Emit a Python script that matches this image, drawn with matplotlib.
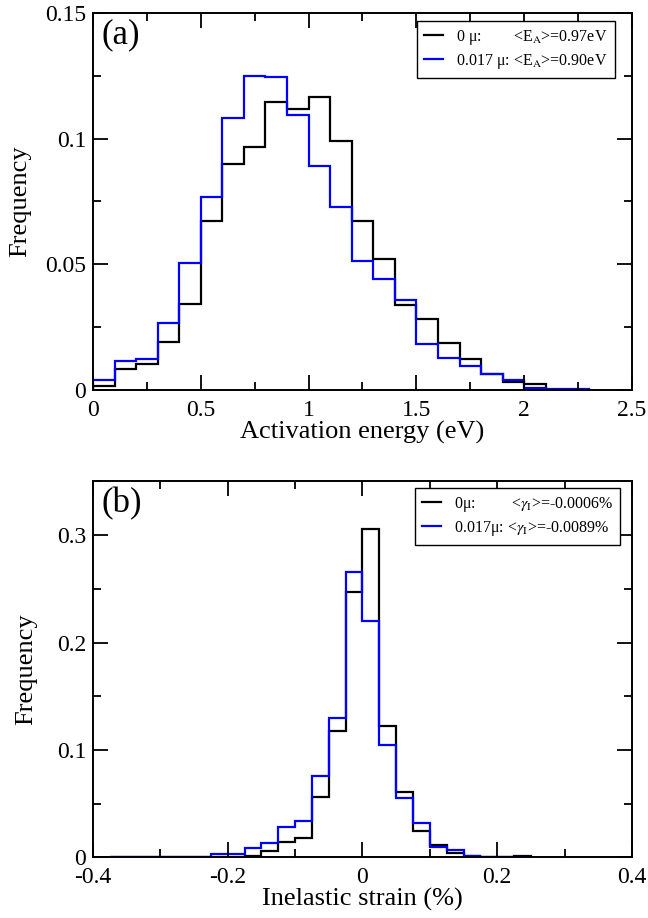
import numpy as np
import matplotlib
matplotlib.use('Agg')
import matplotlib.pyplot as plt
from matplotlib.ticker import MultipleLocator, FuncFormatter
from matplotlib.lines import Line2D

plt.rcParams['font.family'] = ['Liberation Serif', 'DejaVu Serif']
plt.rcParams['mathtext.fontset'] = 'stix'
plt.rcParams['axes.unicode_minus'] = False

# (a) activation energy histograms, bins of 0.1 eV from 0 to 2.3
ea_edges = np.round(np.arange(0, 2.31, 0.1), 2)
ea_0mu = [0.0016, 0.0085, 0.0103, 0.0192, 0.0343, 0.0672, 0.0901, 0.0967, 0.1144, 0.1119,
          0.1167, 0.0990, 0.0672, 0.0520, 0.0340, 0.0284, 0.0185, 0.0123, 0.0062, 0.0033,
          0.0025, 0.0, 0.0]
ea_017mu = [0.0040, 0.0115, 0.0124, 0.0267, 0.0507, 0.0766, 0.1083, 0.1251, 0.1246, 0.1095,
            0.0890, 0.0726, 0.0514, 0.0443, 0.0358, 0.0183, 0.0127, 0.0096, 0.0062, 0.0038,
            0.0006, 0.0003, 0.0003]

# (b) inelastic strain histograms, bins of 0.025 % from -0.375 to 0.25
gs_edges = np.round(np.arange(-0.375, 0.2501, 0.025), 3)
gs_0mu = [0.0, 0.0, 0.0, 0.0003, 0.0003, 0.0003, 0.0005, 0.0006, 0.0015, 0.0055,
          0.014, 0.018, 0.056, 0.118, 0.247, 0.306, 0.122, 0.061, 0.0244, 0.0114,
          0.0043, 0.0012, 0.0006, 0.0003, 0.0015]
gs_017mu = [0.0003, 0.0003, 0.0003, 0.0003, 0.0003, 0.0003, 0.003, 0.003, 0.0083, 0.013,
            0.0287, 0.034, 0.076, 0.130, 0.266, 0.220, 0.105, 0.0555, 0.0315, 0.0098,
            0.0068, 0.0012, 0.0006, 0.0003, 0.0]

fig = plt.figure(figsize=(6.48, 9.18), dpi=100)
ax1 = fig.add_axes([0.1435, 0.5752, 0.8318, 0.4107])
ax2 = fig.add_axes([0.1435, 0.0661, 0.8318, 0.4094])

fmt = FuncFormatter(lambda v, p: '%g' % round(v, 4))


def style(ax):
    for s in ax.spines.values():
        s.set_linewidth(1.4)
    ax.tick_params(which='both', direction='in', top=True, right=True,
                   labelsize=17, width=1.3)
    ax.tick_params(axis='x', pad=7)
    ax.tick_params(axis='y', pad=5)
    ax.tick_params(which='major', length=11)
    ax.tick_params(which='minor', length=5.5)
    ax.xaxis.set_major_formatter(fmt)
    ax.yaxis.set_major_formatter(fmt)


# panel (a)
ax1.stairs(ea_0mu, ea_edges, color='black', lw=1.6, baseline=0)
ax1.stairs(ea_017mu, ea_edges, color='#0000ff', lw=1.6, baseline=0)
ax1.set_xlim(0, 2.5)
ax1.set_ylim(0, 0.15)
ax1.xaxis.set_major_locator(MultipleLocator(0.5))
ax1.xaxis.set_minor_locator(MultipleLocator(0.25))
ax1.yaxis.set_major_locator(MultipleLocator(0.05))
ax1.yaxis.set_minor_locator(MultipleLocator(0.025))
style(ax1)
ax1.set_xlabel('Activation energy (eV)', fontsize=19, labelpad=0)
ax1.set_ylabel('Frequency', fontsize=19, labelpad=10)
ax1.text(0.015, 0.985, '(a)', transform=ax1.transAxes, fontsize=25, va='top', ha='left')
h1 = [Line2D([], [], color='black', lw=1.6), Line2D([], [], color='#0000ff', lw=1.6)]
ax1.legend(h1, ['0 μ:        <E$_{\\rm A}$>=0.97eV',
                '0.017 μ: <E$_{\\rm A}$>=0.90eV'],
           loc='upper right', bbox_to_anchor=(0.968, 0.979), borderaxespad=0,
           fontsize=11.5, frameon=True, fancybox=False, edgecolor='black',
           framealpha=1, handlelength=1.2, handletextpad=0.8, borderpad=0.45,
           labelspacing=0.3).get_frame().set_linewidth(1.0)

# panel (b)
ax2.stairs(gs_0mu, gs_edges, color='black', lw=1.6, baseline=0)
ax2.stairs(gs_017mu, gs_edges, color='#0000ff', lw=1.6, baseline=0)
ax2.set_xlim(-0.4, 0.4)
ax2.set_ylim(0, 0.35)
ax2.xaxis.set_major_locator(MultipleLocator(0.2))
ax2.xaxis.set_minor_locator(MultipleLocator(0.1))
ax2.yaxis.set_major_locator(MultipleLocator(0.1))
ax2.yaxis.set_minor_locator(MultipleLocator(0.05))
style(ax2)
ax2.set_xlabel('Inelastic strain (%)', fontsize=19, labelpad=0)
ax2.set_ylabel('Frequency', fontsize=19, labelpad=14)
ax2.text(0.015, 0.985, '(b)', transform=ax2.transAxes, fontsize=25, va='top', ha='left')
h2 = [Line2D([], [], color='black', lw=1.6), Line2D([], [], color='#0000ff', lw=1.6)]
ax2.legend(h2, ['0μ:         <$\\gamma_{\\rm I}$>=-0.0006%',
                '0.017μ: <$\\gamma_{\\rm I}$>=-0.0089%'],
           loc='upper right', bbox_to_anchor=(0.978, 0.983), borderaxespad=0,
           fontsize=11.5, frameon=True, fancybox=False, edgecolor='black',
           framealpha=1, handlelength=1.2, handletextpad=0.8, borderpad=0.45,
           labelspacing=0.3).get_frame().set_linewidth(1.0)

fig.savefig('out.png', dpi=100)
